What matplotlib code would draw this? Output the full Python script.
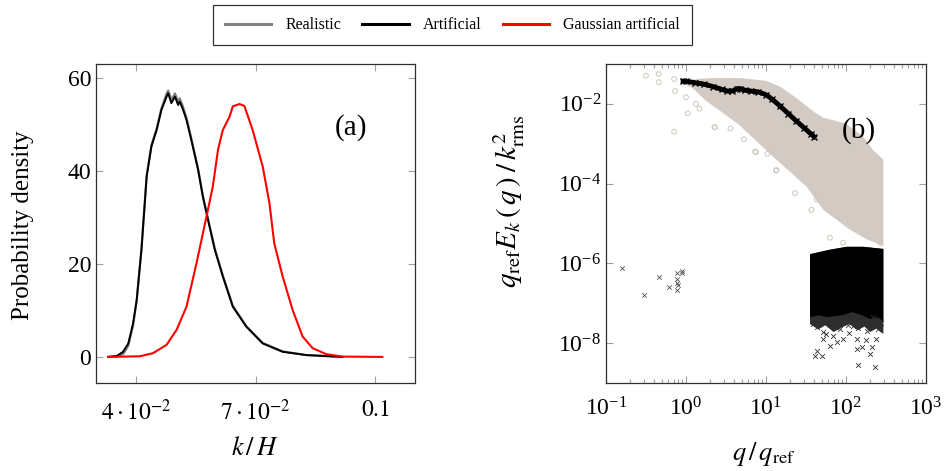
import numpy as np
import matplotlib
matplotlib.use("Agg")
import matplotlib.pyplot as plt

plt.rcParams['font.family'] = ['Liberation Serif', 'DejaVu Serif']
plt.rcParams['mathtext.fontset'] = 'stix'

# ---------------- Panel (a) data ----------------
k_black = [0.0331, 0.0352, 0.0368, 0.0381, 0.0393, 0.0402, 0.0414, 0.0427, 0.0439, 0.0452,
           0.0464, 0.0477, 0.0481, 0.0489, 0.0498, 0.0506, 0.0510, 0.0517, 0.0527, 0.0539,
           0.0556, 0.0568, 0.0581, 0.0598, 0.0618, 0.0643, 0.0677, 0.0718, 0.0768, 0.0827, 0.0918]
pdf_artificial = [0.0, 0.2, 1.1, 2.9, 7.2, 12.2, 23.0, 38.7, 45.2, 48.7,
                  53.0, 55.9, 56.6, 54.5, 55.9, 54.1, 54.8, 53.4, 50.9, 46.6,
                  40.2, 34.4, 29.4, 23.0, 17.3, 10.8, 6.5, 2.9, 1.1, 0.4, 0.0]
pdf_realistic = [0.0, 0.1, 0.6, 2.4, 6.8, 12.0, 23.2, 38.9, 45.5, 49.0,
                 53.4, 56.5, 57.2, 55.2, 56.6, 54.8, 55.5, 54.0, 51.3, 46.9,
                 40.4, 34.6, 29.6, 23.2, 17.5, 11.0, 6.6, 3.0, 1.2, 0.4, 0.0]

k_red = [0.0331, 0.0410, 0.0443, 0.0477, 0.0502, 0.0527, 0.0552, 0.0577, 0.0593, 0.0606,
         0.0618, 0.0635, 0.0643, 0.0660, 0.0672, 0.0693, 0.0718, 0.0735, 0.0747, 0.0768,
         0.0793, 0.0818, 0.0843, 0.0877, 0.0918, 0.1018]
pdf_gaussian = [0.0, 0.14, 0.8, 2.6, 5.8, 10.8, 20.1, 30.1, 36.6, 44.5,
                48.7, 51.6, 53.8, 54.3, 53.9, 48.7, 40.9, 33.0, 24.4, 17.3,
                10.1, 4.4, 1.9, 0.6, 0.07, 0.0]

xticks_a = [0.04, 0.07, 0.1]
xticklabels_a = [r'$4\cdot10^{-2}$', r'$7\cdot10^{-2}$', r'$0.1$']
yticks_a = [0, 20, 40, 60]

# ---------------- Panel (b) data ----------------
# envelope of the light-grey cloud (realistic spectra)
cloud_upper_q = [1.0, 1.5, 2.5, 5.0, 10.0, 15, 24, 39, 52, 100, 165, 217, 293]
cloud_upper_E = [0.038, 0.043, 0.045, 0.044, 0.038, 0.027, 0.014, 6.5e-3, 4.5e-3, 3.2e-3, 1.5e-3, 7e-4, 4e-4]
cloud_lower_q = [293, 182, 112, 52, 32, 12.3, 4.6, 1.78, 1.2, 1.0]
cloud_lower_E = [2.7e-6, 4e-6, 7e-6, 2.2e-5, 8.5e-5, 4.7e-4, 3e-3, 0.012, 0.025, 0.03]
cloud_pts_q = [0.316, 0.455, 0.455, 0.71, 0.73, 1.0, 1.05, 0.71, 1.33, 1.47, 2.27, 2.3, 3.6, 5.3,
               7.5, 10.4, 13.3, 12.1, 7.3, 13.5, 23, 37, 63, 43, 266, 92]
cloud_pts_E = [0.051, 0.056, 0.035, 0.042, 0.021, 0.0147, 5.8e-3, 2.0e-3, 0.01, 7.6e-3, 2.6e-3,
               2.6e-3, 2.4e-3, 1.3e-3, 6.2e-4, 5.6e-4, 2.1e-4, 8.2e-4, 6.4e-4, 2.2e-4, 5.8e-5,
               2.2e-5, 4.4e-6, 4e-5, 3.3e-6, 3.3e-6]

# artificial spectrum (black line)
art_q = [0.92, 1.0, 1.3, 1.7, 2.2, 2.8, 3.3, 3.8, 4.3, 4.8, 5.5, 6.5, 8.0, 10, 12, 15, 19, 24, 30, 36, 40]
art_E = [0.037, 0.037, 0.034, 0.031, 0.027, 0.023, 0.021, 0.021, 0.024, 0.024, 0.022, 0.021, 0.020,
         0.017, 0.013, 0.0088, 0.0057, 0.0037, 0.0025, 0.0018, 0.0015]

# dense black block (Gaussian artificial)
block_top_q = [35.5, 63, 102, 165, 293]
block_top_E = [1.7e-6, 2.2e-6, 2.6e-6, 2.6e-6, 2.3e-6]
block_bot_q = [293, 250, 200, 160, 120, 90, 60, 45, 35.5]
block_bot_E = [3.5e-8, 4.5e-8, 4e-8, 5e-8, 6e-8, 5e-8, 4.5e-8, 5e-8, 4.5e-8]
# ragged, less dense fringe just below the block
fringe_band_q = [293, 240, 200, 170, 140, 110, 90, 70, 55, 45, 35.5]
fringe_band_E = [1.7e-8, 2.3e-8, 1.9e-8, 2.6e-8, 2.1e-8, 3e-8, 2.5e-8, 1.9e-8, 2.8e-8, 2.2e-8, 3e-8]
fringe_q = [41, 50, 43, 143, 230, 52, 63, 77, 92, 69, 57, 43, 84, 137, 158, 200, 210, 137, 180, 240,
            110, 52, 39, 253, 123, 200, 63, 98, 162, 47, 215, 75, 105, 140, 185, 270, 55, 125, 230]
fringe_E = [4.8e-9, 4.7e-9, 6.4e-9, 2.8e-9, 2.5e-9, 1.26e-8, 8.6e-9, 1.04e-8, 1.26e-8, 1.5e-8,
            1.7e-8, 2.5e-8, 2.2e-8, 7e-9, 7.8e-9, 5.4e-9, 7.8e-9, 1.26e-8, 1.2e-8, 1.26e-8,
            1.8e-8, 1.9e-8, 3e-8, 2.2e-8, 2.7e-8, 2.7e-8, 3e-8, 3.6e-8, 3.6e-8, 4e-8,
            4.4e-8, 2.6e-8, 2.8e-8, 2.4e-8, 2.0e-8, 3.2e-8, 3.4e-8, 4.2e-8, 3.0e-8]
outlier_q = [0.157, 0.30, 0.46, 0.61, 0.77, 0.78, 0.78, 0.80, 0.90, 0.90, 0.77]
outlier_E = [7.8e-7, 1.65e-7, 4.5e-7, 2.6e-7, 3.3e-7, 4.0e-7, 2.2e-7, 2.8e-7, 6.4e-7, 5.8e-7, 5.7e-7]

# ---------------- Figure ----------------
W, H = 944, 471
fig = plt.figure(figsize=(W / 100, H / 100), dpi=100)

def box(l, t, r, b):
    return [l / W, 1 - b / H, (r - l) / W, (b - t) / H]

FS = 17
tick_kw = dict(direction='in', color='#a0a0a0', length=5, width=0.8, top=True, right=True, labelsize=FS)

# Panel (a)
ax1 = fig.add_axes(box(96, 64, 415, 383))
l_real, = ax1.plot(k_black, pdf_realistic, color='#808080', lw=1.6, label='Realistic')
l_art, = ax1.plot(k_black, pdf_artificial, color='black', lw=1.4, label='Artificial')
l_gau, = ax1.plot(k_red, pdf_gaussian, color='red', lw=1.5, label='Gaussian artificial')
ax1.set_xlim(0.03, 0.11)
ax1.set_ylim(-5.6, 62.9)
ax1.set_xticks(xticks_a)
ax1.set_xticklabels(xticklabels_a)
ax1.set_yticks(yticks_a)
ax1.tick_params(which='both', **tick_kw)
ax1.tick_params(axis='x', pad=12)
ax1.set_xlabel(r'$k\,/\,H$', fontsize=19)
ax1.xaxis.set_label_coords(0.498, -0.17)
ax1.set_ylabel('Probability density', fontsize=18)
ax1.yaxis.set_label_coords(-0.195, 0.495)
ax1.text(0.80, 0.80, '(a)', transform=ax1.transAxes, fontsize=21, ha='center', va='center')
for s in ax1.spines.values():
    s.set_color('#303030')
    s.set_linewidth(0.9)

# Panel (b)
ax2 = fig.add_axes(box(606, 64, 926, 383))
ax2.set_xscale('log')
ax2.set_yscale('log')
cloud_color = '#d3cbc3'
ax2.fill(cloud_upper_q + cloud_lower_q, cloud_upper_E + cloud_lower_E,
         color=cloud_color, lw=0, zorder=1)
ax2.scatter(cloud_pts_q, cloud_pts_E, s=12, facecolors='none', edgecolors='#cfc7bf',
            linewidths=0.7, zorder=1)
ax2.plot(art_q, art_E, color='black', lw=3.5, marker='x', ms=4, mew=1, zorder=3)
# fringe band drawn first (from block top down to ragged edge), solid block over it
ax2.fill(block_top_q + fringe_band_q, block_top_E + fringe_band_E, color='#2e2e2e', lw=0, zorder=2)
ax2.fill(block_top_q + block_bot_q, block_top_E + block_bot_E, color='black', lw=0, zorder=2)
ax2.scatter(fringe_q, fringe_E, marker='x', s=12, color='#303030', linewidths=0.6, zorder=2)
ax2.scatter(outlier_q, outlier_E, marker='x', s=10, color='#505050', linewidths=0.6, zorder=2)
ax2.set_xlim(0.1, 1000)
ax2.set_ylim(1e-9, 1e-1)
ax2.set_xticks([0.1, 1, 10, 100, 1000])
ax2.set_yticks([1e-8, 1e-6, 1e-4, 1e-2])
ax2.yaxis.set_minor_locator(matplotlib.ticker.NullLocator())
ax2.tick_params(which='both', **tick_kw)
ax2.tick_params(which='minor', length=3)
ax2.tick_params(axis='x', pad=10)
ax2.set_xlabel(r'$q\,/\,q_{\mathrm{ref}}$', fontsize=19)
ax2.xaxis.set_label_coords(0.494, -0.18)
ax2.set_ylabel(r'$q_{\mathrm{ref}}E_k\,(\,q\,)\;/\,k_{\mathrm{rms}}^2$', fontsize=21)
ax2.yaxis.set_label_coords(-0.247, 0.57)
ax2.text(0.79, 0.79, '(b)', transform=ax2.transAxes, fontsize=21, ha='center', va='center', zorder=5)
for s in ax2.spines.values():
    s.set_color('#303030')
    s.set_linewidth(0.9)

leg = fig.legend(handles=[l_real, l_art, l_gau], loc='upper center', bbox_to_anchor=(0.4795, 0.989),
                 borderaxespad=0, ncol=3, fontsize=11.5, frameon=True, fancybox=False, edgecolor='black',
                 handlelength=2.9, columnspacing=1.3, handletextpad=0.9, borderpad=0.75)
leg.get_frame().set_linewidth(0.9)
for h in leg.legend_handles:
    h.set_linewidth(2.2)

fig.savefig('out.png', dpi=100)
